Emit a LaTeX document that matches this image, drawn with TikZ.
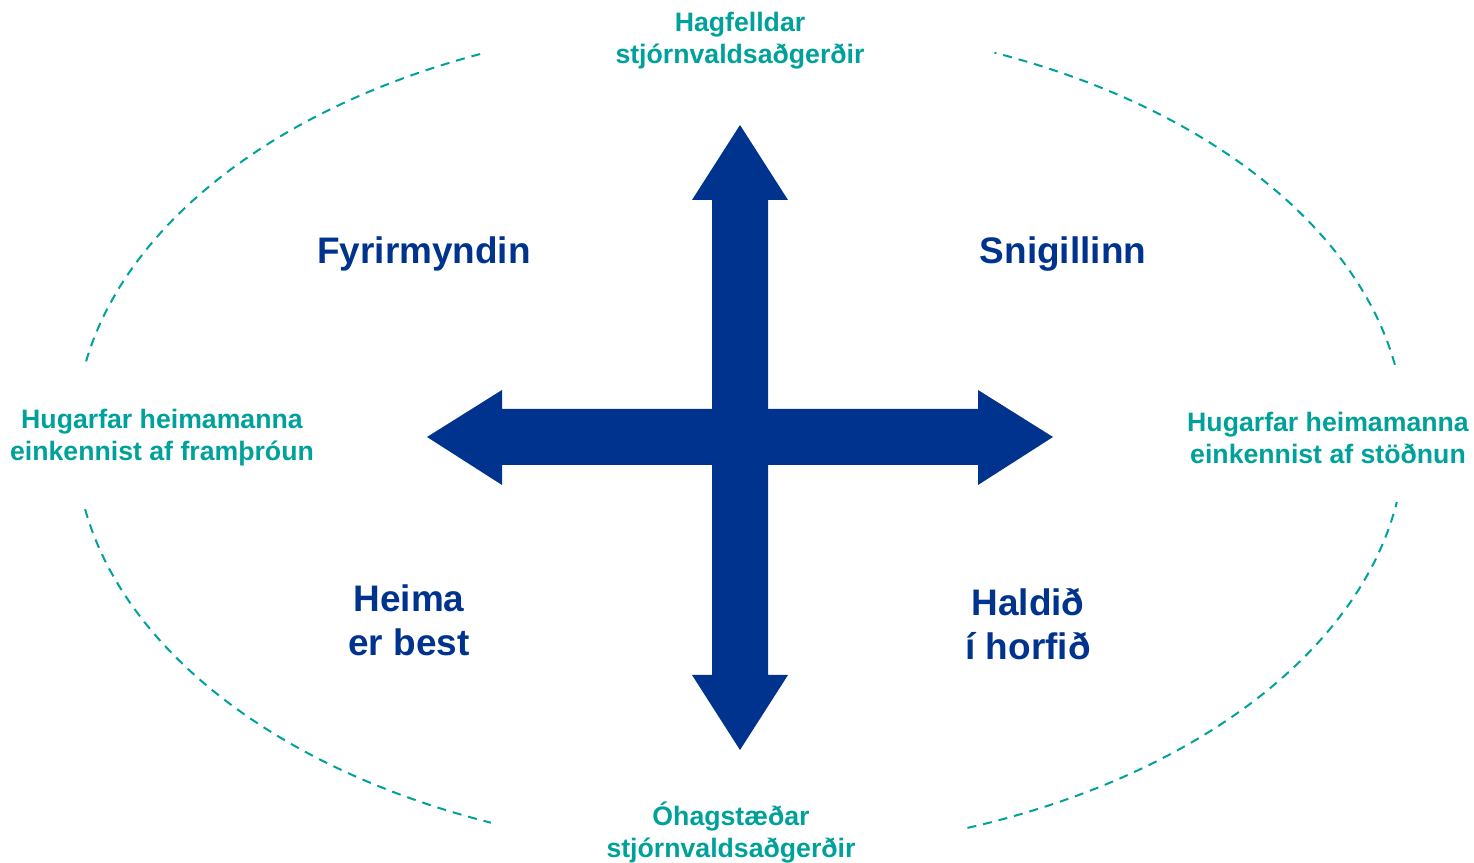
\documentclass[tikz,border=0pt]{standalone}
\usepackage{fontspec}
\setmainfont{Liberation Sans}
\usepackage{tikz}
\usetikzlibrary{positioning}
\usepackage{xcolor}
\definecolor{CrossBlue}{HTML}{00338D}
\definecolor{RimTeal}{HTML}{00A19A}

\begin{document}
\begin{tikzpicture}[x=0.75pt,y=0.75pt,
    axislabel/.style={text=RimTeal,font=\bfseries\fontsize{20}{24}\selectfont,align=center,inner sep=0pt},
    quadlabel/.style={text=CrossBlue,font=\bfseries\fontsize{27.7}{33}\selectfont,align=center,inner sep=0pt},
    rim/.style={draw=RimTeal,line width=1.5pt,dash pattern=on 6.75pt off 5.25pt}]
  \useasboundingbox (0,0) rectangle (1474,863);
  \coordinate (mid) at (740,426);
  % the cross
  \fill[CrossBlue] (740,738) -- (788,663) -- (768,663) -- (768,188) -- (788,188) -- (740,113)
    -- (692,188) -- (712,188) -- (712,663) -- (692,663) -- cycle;
  \fill[CrossBlue] (427,426) -- (502,473) -- (502,454) -- (978,454) -- (978,473) -- (1053,426)
    -- (978,378) -- (978,398) -- (502,398) -- (502,378) -- cycle;
  % dashed rim
  \foreach \a/\b in {10/67.5,113/170,190/248,290/351}
    \draw[rim] (mid) ++(\a:665 and 416) arc[start angle=\a,end angle=\b,x radius=665,y radius=416];
  % axes
  \node[axislabel] (good) at (740,822) {Hagfelldar\\stjórnvaldsaðgerðir};
  \node[axislabel] (bad) at (731,30) {Óhagstæðar\\stjórnvaldsaðgerðir};
  \node[axislabel] (progress) at (162,425) {Hugarfar heimamanna\\einkennist af framþróun};
  \node[axislabel] (stagnation) at (1328,425) {Hugarfar heimamanna\\einkennist af stöðnun};
  % quadrants
  \node[quadlabel] (model) at (424,609) {Fyrirmyndin};
  \node[quadlabel] (snail) at (1063,609) {Snigillinn};
  \node[quadlabel] (home) at (409,243) {Heima\\er best};
  \node[quadlabel] (hold) at (1028,239) {Haldið\\í horfið};
\end{tikzpicture}
\end{document}
